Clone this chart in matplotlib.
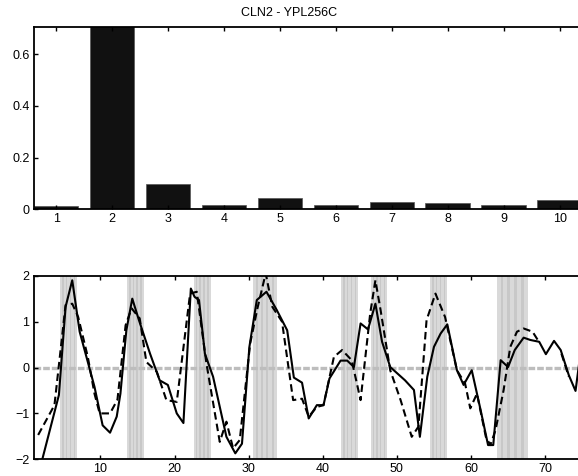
import numpy as np
import matplotlib
matplotlib.use("Agg")
import matplotlib.pyplot as plt

plt.rcParams['font.family'] = ['Liberation Sans', 'DejaVu Sans']

title = "CLN2 - YPL256C"

# top bar chart
bar_cats = [1, 2, 3, 4, 5, 6, 7, 8, 9, 10]
bar_vals = [0.013, 0.85, 0.098, 0.017, 0.045, 0.018, 0.030, 0.025, 0.016, 0.036]

# bottom line chart
solid_x = [2.0, 4.4, 5.3, 6.2, 7.2, 8.6, 9.2, 10.3, 11.3, 12.2, 12.7, 13.5, 14.3, 15.2, 16.7,
           18.0, 19.1, 20.3, 21.2, 22.2, 22.7, 23.3, 24.1, 25.2, 27.0, 28.2, 29.1, 30.1, 31.1,
           32.4, 33.8, 35.2, 36.1, 37.2, 38.1, 39.2, 40.1, 40.9, 42.4, 43.3, 44.2, 45.1, 46.1,
           47.1, 48.0, 49.1, 51.1, 52.3, 53.1, 54.1, 55.0, 55.9, 56.8, 58.1, 59.0, 60.1, 61.3,
           62.3, 63.0, 64.0, 65.0, 65.9, 67.1, 68.0, 69.2, 70.1, 71.2, 72.1, 73.2, 74.1, 75.0]
solid_y = [-2.1, -0.60, 1.32, 1.90, 0.78, -0.06, -0.42, -1.26, -1.42, -1.07, -0.57, 0.81, 1.50,
           1.03, 0.30, -0.28, -0.38, -1.00, -1.21, 1.72, 1.54, 1.47, 0.30, -0.20, -1.51, -1.87,
           -1.66, 0.45, 1.47, 1.65, 1.25, 0.81, -0.22, -0.33, -1.11, -0.82, -0.82, -0.24, 0.15,
           0.15, 0.01, 0.96, 0.83, 1.39, 0.56, 0.01, -0.28, -0.49, -1.51, -0.20, 0.45, 0.74,
           0.94, -0.06, -0.38, -0.06, -0.93, -1.69, -1.69, 0.16, 0.01, 0.38, 0.65, 0.60, 0.56,
           0.29, 0.58, 0.38, -0.17, -0.51, 0.60]

dash_x = [1.6, 3.8, 5.3, 6.2, 7.0, 8.3, 9.2, 9.9, 11.3, 12.3, 13.4, 14.2, 15.3, 16.2, 17.6,
          18.9, 20.3, 22.1, 23.0, 24.3, 26.1, 27.0, 27.9, 28.8, 30.2, 31.2, 32.3, 33.2, 34.5,
          36.0, 37.2, 38.1, 39.2, 40.1, 41.5, 42.6, 43.9, 45.1, 46.4, 47.1, 47.8, 49.1, 50.5,
          52.0, 52.9, 54.0, 55.2, 56.5, 58.1, 59.2, 59.9, 60.8, 62.0, 62.6, 63.3, 64.4, 65.3,
          66.2, 67.1, 68.3, 69.2, np.nan, 72.2, 73.2]
dash_y = [-1.47, -0.82, 1.36, 1.39, 1.10, 0.23, -0.57, -1.00, -1.00, -0.70, 0.92, 1.29, 1.07,
          0.12, -0.09, -0.71, -0.75, 1.61, 1.65, 0.09, -1.62, -1.18, -1.76, -1.58, 0.52, 1.30,
          2.05, 1.32, 1.00, -0.71, -0.68, -1.07, -0.86, -0.82, 0.23, 0.38, 0.16, -0.71, 1.18,
          1.90, 1.25, -0.06, -0.71, -1.51, -1.29, 1.03, 1.61, 1.10, -0.06, -0.35, -0.89, -0.57,
          -1.51, -1.69, -1.37, -0.49, 0.45, 0.78, 0.85, 0.78, 0.55, np.nan, 0.30, -0.20]

band_lo = [4.6, 13.6, 22.6, 30.6, 42.5, 46.5, 54.5, 63.5]
band_hi = [6.9, 15.9, 24.9, 33.8, 44.8, 48.7, 56.8, 67.7]

x_ticks_bottom = [10, 20, 30, 40, 50, 60, 70]
y_ticks_bottom = [-2, -1, 0, 1, 2]
y_ticks_top = [0, 0.2, 0.4, 0.6]

W, H = 578, 476
fig = plt.figure(figsize=(W / 100, H / 100), dpi=100)

left_px, width_px = 33.7, 548.5
ax1 = fig.add_axes([left_px / W, 1 - 209.3 / H, width_px / W, (209.3 - 26.7) / H])
ax2 = fig.add_axes([left_px / W, 1 - 459.3 / H, width_px / W, (459.3 - 275.7) / H])

FS = 9

# ---- top bars
ax1.bar(bar_cats, bar_vals, width=0.8, color='#111111', edgecolor='#555555', linewidth=0.5, zorder=1)
ax1.set_xlim(0.6, 10.4)
ax1.set_ylim(0, 0.707)
ax1.set_xticks(bar_cats)
ax1.set_xticklabels([str(c) for c in bar_cats])
ax1.set_yticks(y_ticks_top)
ax1.set_yticklabels(['0', '0.2', '0.4', '0.6'])

# ---- bottom lines
for lo, hi in zip(band_lo, band_hi):
    ax2.axvspan(lo, hi, color='#d9d9d9', lw=0, zorder=0)
    w = hi - lo
    for f in (0.12, 0.32, 0.55, 0.78):
        ax2.axvspan(lo + f * w, lo + (f + 0.09) * w, color='#c8c8c8', lw=0, zorder=0)

ax2.axhline(0, color='#bdbdbd', lw=2.4, ls=(0, (2.0, 0.6)), zorder=1)
ax2.plot(dash_x, dash_y, color='black', lw=1.5, ls=(0, (3.6, 2.0)), zorder=3)
ax2.plot(solid_x, solid_y, color='black', lw=1.5, zorder=4)
ax2.set_xlim(1, 75)
ax2.set_ylim(-2, 2)
ax2.set_xticks(x_ticks_bottom)
ax2.set_yticks(y_ticks_bottom)

for ax in (ax1, ax2):
    ax.tick_params(direction='in', length=3.2, width=1.0, top=True, right=True,
                   labelsize=FS, pad=3, colors='black')
    for s in ax.spines.values():
        s.set_linewidth(1.3)
        s.set_color('black')

fig.text(0.5, 1 - 12.5 / H, title, ha='center', va='center', fontsize=FS)

fig.savefig('out.png', dpi=100)
